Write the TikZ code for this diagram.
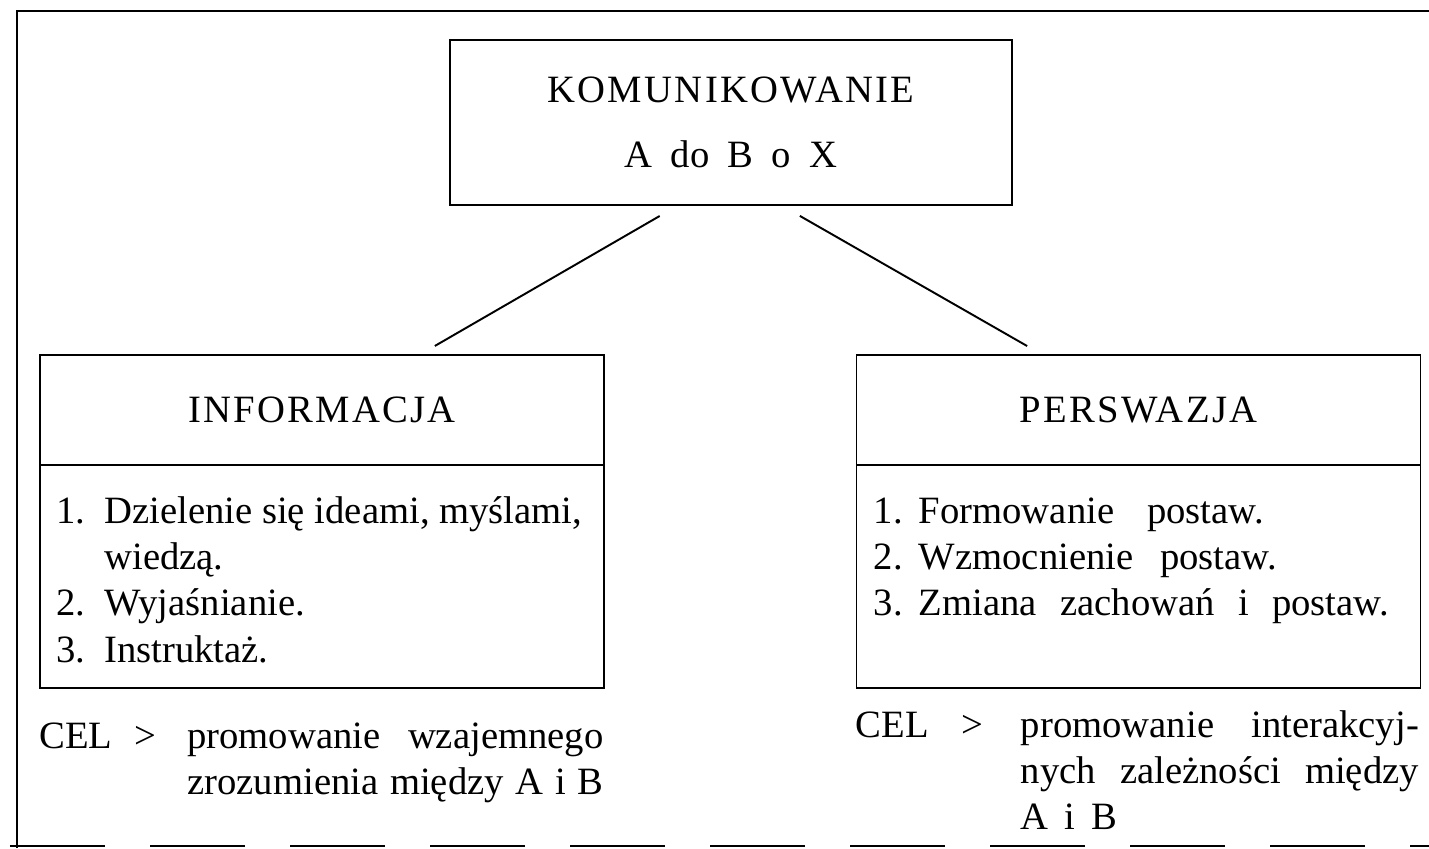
\documentclass[tikz,border=0pt]{standalone}
\usepackage{fontspec}
\setmainfont{Liberation Serif}
\usepackage{tikz}
\usetikzlibrary{positioning}
\tikzstyle{mainBox} = [draw, rectangle, line width=1.1pt, align=center,
	minimum width=11.24cm, minimum height=3.3cm]
\tikzstyle{headBox} = [draw, rectangle, line width=1.1pt,
	minimum width=11.28cm, minimum height=2.2cm]
\tikzstyle{listBox} = [draw, rectangle, line width=1.1pt,
	minimum width=11.28cm, minimum height=4.46cm]
\tikzstyle{itemText} = [inner sep=0pt, anchor=base west]
\tikzstyle{link} = [line width=1.1pt, shorten <=0.4cm, shorten >=0.32cm]
\tikzstyle{frameLine} = [line width=1.6pt]
\newcommand{\fillLine}[2]{\makebox[#1][s]{#2}}
\newcommand{\headText}[1]{{\addfontfeature{LetterSpace=6}#1}}

\begin{document}
\begin{tikzpicture}[font=\fontsize{22}{26.2}\selectfont]
		\useasboundingbox (0,0) rectangle (28.58,-16.96);
		% ramka
		\draw[frameLine] (0.34,-16.96) -- (0.34,-0.22) -- (28.58,-0.22);
		\draw[frameLine, dash pattern=on 1.9cm off 0.9cm] (0.2,-16.92) -- (28.58,-16.92);
		
		% nodes
		\node[mainBox] (komm) at (14.62,-2.45) {\headText{KOMUNIKOWANIE}\\[11pt]\fillLine{4.26cm}{A do B o X}};
		\node[headBox, below=2.96cm of komm, xshift=-8.18cm] (info) {\headText{INFORMACJA}};
		\node[listBox, below=-1.1pt of info] (info-list) {};
		\node[headBox, below=2.96cm of komm, xshift=8.15cm] (pers) {\headText{PERSWAZJA}};
		\node[listBox, below=-1.1pt of pers] (pers-list) {};
		
		% listy
		\node[itemText] (info-items) at ([shift={(0.34,-1.16)}]info.south west) {%
			\begin{tabular}[t]{@{}p{0.96cm}@{}l@{}}
				1. & Dzielenie się ideami, myślami,\\
				   & wiedzą.\\
				2. & Wyjaśnianie.\\
				3. & Instruktaż.
			\end{tabular}};
		\node[itemText] (pers-items) at ([shift={(0.36,-1.16)}]pers.south west) {%
			\begin{tabular}[t]{@{}p{0.9cm}@{}l@{}}
				1. & \fillLine{6.9cm}{Formowanie postaw.}\\
				2. & \fillLine{7.16cm}{Wzmocnienie postaw.}\\
				3. & \fillLine{9.4cm}{Zmiana zachowań i postaw.}
			\end{tabular}};
		
		% cel
		\node[itemText] (info-cel) at ([yshift=-1.2cm]info-list.south west) {%
			\begin{tabular}[t]{@{}p{1.9cm}@{}p{1.06cm}@{}l@{}}
				CEL & > & \fillLine{8.32cm}{promowanie wzajemnego}\\
				    &   & \fillLine{8.32cm}{zrozumienia między A i B}
			\end{tabular}};
		\node[itemText] (pers-cel) at ([yshift=-0.98cm]pers-list.south west) {%
			\begin{tabular}[t]{@{}p{2.12cm}@{}p{1.18cm}@{}l@{}}
				CEL & > & \fillLine{7.96cm}{promowanie interakcyj-}\\
				    &   & \fillLine{7.96cm}{nych zależności między}\\
				    &   & \fillLine{1.92cm}{A i B}
			\end{tabular}};
		
		% linie
		\draw[link] ([xshift=-1.08cm]komm.south) -- ([xshift=1.98cm]info.north);
		\draw[link] ([xshift=1.03cm]komm.south) -- ([xshift=-1.95cm]pers.north);
\end{tikzpicture}
\end{document}
